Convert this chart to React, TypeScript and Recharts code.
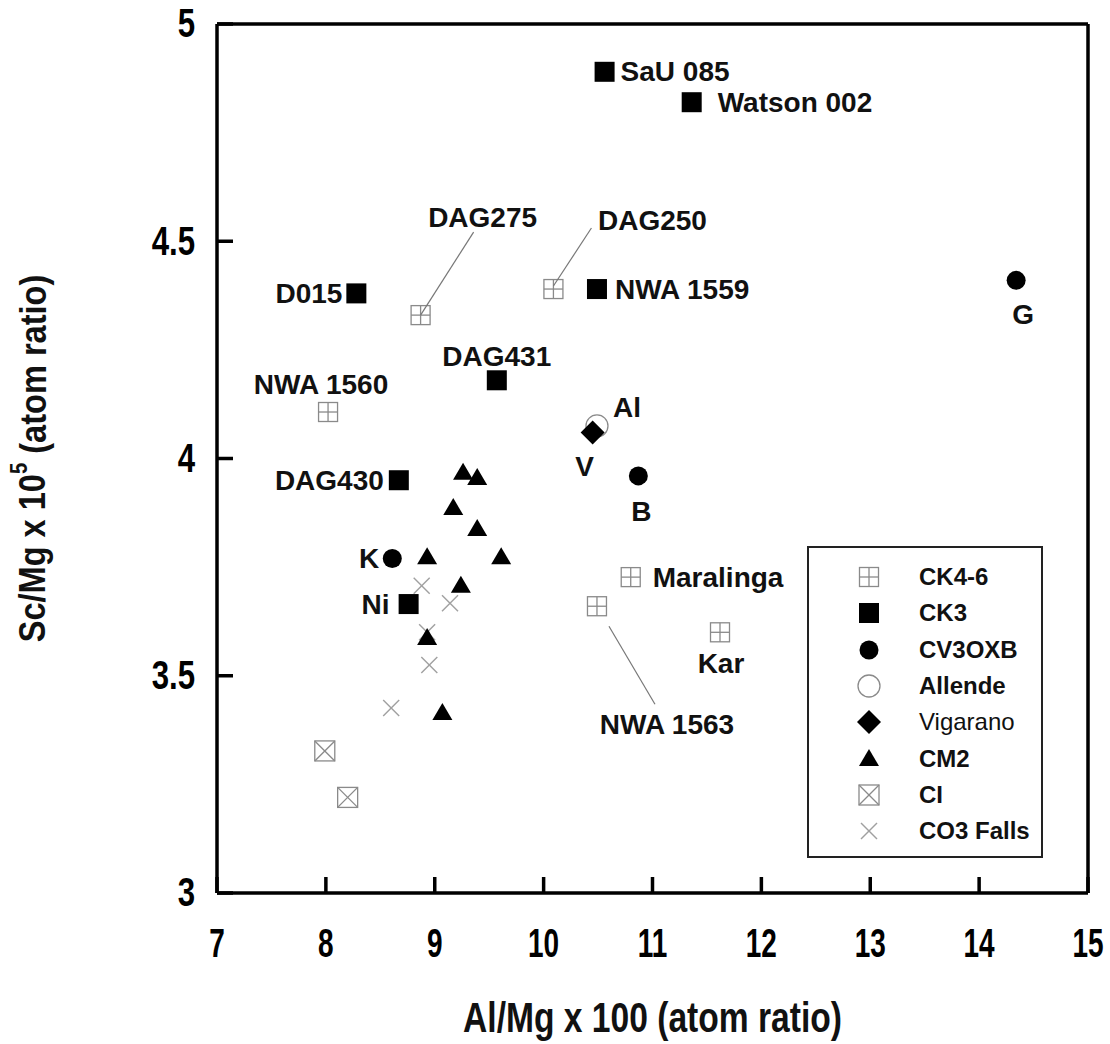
import React from "react";
import { ScatterChart, Scatter, XAxis, YAxis, Legend } from "recharts";

const xTicks = [7, 8, 9, 10, 11, 12, 13, 14, 15];
const yTicks = [3, 3.5, 4, 4.5, 5];

const ck46 = [
  { x: 8.87, y: 4.33, name: "DAG275" },
  { x: 10.09, y: 4.39, name: "DAG250" },
  { x: 8.02, y: 4.107, name: "NWA 1560" },
  { x: 10.8, y: 3.727, name: "Maralinga" },
  { x: 10.49, y: 3.66, name: "NWA 1563" },
  { x: 11.62, y: 3.6, name: "Kar" },
];

const ck3 = [
  { x: 10.56, y: 4.89, name: "SaU 085" },
  { x: 11.36, y: 4.82, name: "Watson 002" },
  { x: 8.28, y: 4.38, name: "D015" },
  { x: 10.49, y: 4.39, name: "NWA 1559" },
  { x: 9.57, y: 4.18, name: "DAG431" },
  { x: 8.67, y: 3.95, name: "DAG430" },
  { x: 8.76, y: 3.665, name: "Ni" },
];

const cv3oxb = [
  { x: 14.34, y: 4.41, name: "G" },
  { x: 10.87, y: 3.96, name: "B" },
  { x: 8.61, y: 3.77, name: "K" },
];

const allende = [{ x: 10.49, y: 4.075, name: "Al" }];
const vigarano = [{ x: 10.45, y: 4.06, name: "V" }];

const cm2 = [
  { x: 9.26, y: 3.967 },
  { x: 9.39, y: 3.955 },
  { x: 9.17, y: 3.886 },
  { x: 9.39, y: 3.838 },
  { x: 8.93, y: 3.773 },
  { x: 9.61, y: 3.773 },
  { x: 9.24, y: 3.707 },
  { x: 8.93, y: 3.587 },
  { x: 9.07, y: 3.414 },
];

const ci = [
  { x: 7.99, y: 3.327 },
  { x: 8.2, y: 3.22 },
];

const co3Falls = [
  { x: 8.88, y: 3.707 },
  { x: 9.14, y: 3.667 },
  { x: 8.93, y: 3.6 },
  { x: 8.95, y: 3.525 },
  { x: 8.6, y: 3.426 },
];

const legendOrder = ["CK4-6", "CK3", "CV3OXB", "Allende", "Vigarano", "CM2", "CI", "CO3 Falls"];

// where each point's name goes, in px from the marker
type Spot = { dx: number; dy: number; anchor: "start" | "middle" | "end"; line?: number[] };
const labelSpots: Record<string, Spot> = {
  "SaU 085": { dx: 16, dy: 0, anchor: "start" },
  "Watson 002": { dx: 26, dy: 0, anchor: "start" },
  D015: { dx: -14, dy: 0, anchor: "end" },
  "NWA 1559": { dx: 18, dy: 0, anchor: "start" },
  DAG431: { dx: 0, dy: -24, anchor: "middle" },
  DAG430: { dx: -15, dy: 0, anchor: "end" },
  "NWA 1560": { dx: -7, dy: -28, anchor: "middle" },
  DAG275: { dx: 62, dy: -98, anchor: "middle", line: [0, 0, 53, -83] },
  DAG250: { dx: 99, dy: -69, anchor: "middle", line: [0, -3, 38, -61] },
  "NWA 1563": { dx: 70, dy: 118, anchor: "middle", line: [12, 20, 58, 98] },
  Maralinga: { dx: 22, dy: 0, anchor: "start" },
  Kar: { dx: 1, dy: 31, anchor: "middle" },
  G: { dx: 7, dy: 34, anchor: "middle" },
  B: { dx: 3, dy: 36, anchor: "middle" },
  K: { dx: -13, dy: 0, anchor: "end" },
  Ni: { dx: -19, dy: 0, anchor: "end" },
  Al: { dx: 30, dy: -18, anchor: "middle" },
  V: { dx: -8, dy: 34, anchor: "middle" },
};

const FONT = "'Liberation Sans', Arial, sans-serif";
const TICK = 16;
const GRAY = "#8a8a8a";
const axisStyle = { stroke: "#000", strokeWidth: 3.5 };

function glyph(kind: string, cx: number, cy: number) {
  switch (kind) {
    case "CK4-6":
      return (
        <g stroke={GRAY} strokeWidth={1.3} fill="#fff">
          <rect x={cx - 9.5} y={cy - 9.5} width={19} height={19} />
          <line x1={cx} y1={cy - 9.5} x2={cx} y2={cy + 9.5} />
          <line x1={cx - 9.5} y1={cy} x2={cx + 9.5} y2={cy} />
        </g>
      );
    case "CK3":
      return <rect x={cx - 10} y={cy - 10} width={20} height={20} fill="#000" />;
    case "CV3OXB":
      return <circle cx={cx} cy={cy} r={9.5} fill="#000" />;
    case "Allende":
      return <circle cx={cx} cy={cy} r={11} fill="none" stroke={GRAY} strokeWidth={1.3} />;
    case "Vigarano":
      return <polygon points={`${cx},${cy - 12} ${cx + 12},${cy} ${cx},${cy + 12} ${cx - 12},${cy}`} fill="#000" />;
    case "CM2":
      return <polygon points={`${cx},${cy - 10} ${cx + 10},${cy + 7} ${cx - 10},${cy + 7}`} fill="#000" />;
    case "CI":
      return (
        <g stroke={GRAY} strokeWidth={1.3} fill="#fff">
          <rect x={cx - 10} y={cy - 10} width={20} height={20} />
          <line x1={cx - 10} y1={cy - 10} x2={cx + 10} y2={cy + 10} />
          <line x1={cx - 10} y1={cy + 10} x2={cx + 10} y2={cy - 10} />
        </g>
      );
    default:
      return (
        <g stroke="#a0a0a0" strokeWidth={1.4}>
          <line x1={cx - 8} y1={cy - 8} x2={cx + 8} y2={cy + 8} />
          <line x1={cx - 8} y1={cy + 8} x2={cx + 8} y2={cy - 8} />
        </g>
      );
  }
}

function pointLabel(name: string | undefined, cx: number, cy: number) {
  if (!name) return null;
  const s = labelSpots[name];
  if (!s) return null;
  return (
    <g>
      {s.line && (
        <line
          x1={cx + s.line[0]}
          y1={cy + s.line[1]}
          x2={cx + s.line[2]}
          y2={cy + s.line[3]}
          stroke="#777"
          strokeWidth={1.2}
        />
      )}
      <text
        x={cx + s.dx}
        y={cy + s.dy}
        textAnchor={s.anchor}
        dominantBaseline="central"
        fontFamily={FONT}
        fontWeight="bold"
        fontSize={28}
        fill="#111"
      >
        {name}
      </text>
    </g>
  );
}

const marker = (kind: string) => (props: any) => (
  <g>
    {glyph(kind, props.cx, props.cy)}
    {pointLabel(props.payload?.name, props.cx, props.cy)}
  </g>
);

const tickText = { fontFamily: FONT, fontWeight: "bold" as const, fontSize: 40, fill: "#000" };

const BottomTick = (p: any) => (
  <g>
    <line x1={p.x} y1={p.y} x2={p.x} y2={p.y - TICK} stroke="#000" strokeWidth={3.5} />
    <text
      transform={`translate(${p.x},${p.y + 50}) scale(0.7,1)`}
      textAnchor="middle"
      dominantBaseline="central"
      {...tickText}
    >
      {p.payload.value}
    </text>
  </g>
);

const LeftTick = (p: any) => (
  <g>
    <line x1={p.x} y1={p.y} x2={p.x + TICK} y2={p.y} stroke="#000" strokeWidth={3.5} />
    <text
      transform={`translate(${p.x - 22},${p.y}) scale(0.78,1)`}
      textAnchor="end"
      dominantBaseline="central"
      {...tickText}
    >
      {p.payload.value}
    </text>
  </g>
);

const TopTick = (p: any) => <line x1={p.x} y1={p.y} x2={p.x} y2={p.y + TICK} stroke="#000" strokeWidth={3.5} />;
const RightTick = (p: any) => <line x1={p.x} y1={p.y} x2={p.x - TICK} y2={p.y} stroke="#000" strokeWidth={3.5} />;

const titleText = { fontFamily: FONT, fontWeight: "bold" as const, fontSize: 42, fill: "#111" };

const XTitle = (props: any) => {
  const vb = props.viewBox;
  return (
    <text
      transform={`translate(${vb.x + vb.width / 2},${vb.y + 125}) scale(0.8,1)`}
      textAnchor="middle"
      dominantBaseline="central"
      {...titleText}
    >
      Al/Mg x 100 (atom ratio)
    </text>
  );
};

const YTitle = (props: any) => {
  const vb = props.viewBox;
  return (
    <text
      transform={`translate(${vb.x + 32},${vb.y + vb.height / 2}) rotate(-90) scale(0.88,1)`}
      textAnchor="middle"
      dominantBaseline="central"
      {...titleText}
      fontSize={37}
    >
      Sc/Mg x 10
      <tspan dy={-14} fontSize={23}>
        5
      </tspan>
      <tspan dy={14}> (atom ratio)</tspan>
    </text>
  );
};

const LegendBox = (props: any) => {
  const names: string[] = (props.payload || []).map((e: any) => e.value);
  const rows = legendOrder.filter((n) => names.includes(n));
  return (
    <div
      style={{
        border: "2px solid #222",
        width: 236,
        height: 312,
        boxSizing: "border-box",
        paddingTop: 11,
        background: "#fff",
      }}
    >
      {rows.map((n) => (
        <div key={n} style={{ height: 36.3, display: "flex", alignItems: "center" }}>
          <svg width={110} height={30} style={{ flex: "none" }}>
            {glyph(n, 60, 15)}
          </svg>
          <span
            style={{
              fontFamily: FONT,
              fontSize: 24,
              fontWeight: n === "Vigarano" ? "normal" : "bold",
              color: "#111",
            }}
          >
            {n}
          </span>
        </div>
      ))}
    </div>
  );
};

export default function App() {
  return (
    <div style={{ width: 1110, height: 1044, background: "#fff" }}>
      <style>{"body{margin:0;background:#fff}"}</style>
      <ScatterChart width={1110} height={1044} margin={{ top: 23, right: 21, bottom: 0, left: 0 }}>
        <XAxis
          dataKey="x"
          type="number"
          domain={[7, 15]}
          ticks={xTicks}
          interval={0}
          height={151}
          tickSize={0}
          tickMargin={0}
          tickLine={false}
          tick={BottomTick}
          axisLine={axisStyle}
          label={XTitle}
        />
        <XAxis
          xAxisId="top"
          orientation="top"
          type="number"
          domain={[7, 15]}
          ticks={xTicks}
          interval={0}
          height={1}
          tickSize={0}
          tickMargin={0}
          tickLine={false}
          tick={TopTick}
          axisLine={axisStyle}
        />
        <YAxis
          dataKey="y"
          type="number"
          domain={[3, 5]}
          ticks={yTicks}
          interval={0}
          width={217}
          tickSize={0}
          tickMargin={0}
          tickLine={false}
          tick={LeftTick}
          axisLine={axisStyle}
          label={YTitle}
        />
        <YAxis
          yAxisId="right"
          orientation="right"
          type="number"
          domain={[3, 5]}
          ticks={yTicks}
          interval={0}
          width={1}
          tickSize={0}
          tickMargin={0}
          tickLine={false}
          tick={RightTick}
          axisLine={axisStyle}
        />
        <Legend
          layout="horizontal"
          verticalAlign="middle"
          align="center"
          content={LegendBox}
          wrapperStyle={{ left: 807, top: 546, width: 236, height: 312 }}
        />
        <Scatter name="CK4-6" data={ck46} shape={marker("CK4-6")} isAnimationActive={false} />
        <Scatter name="CO3 Falls" data={co3Falls} shape={marker("CO3 Falls")} isAnimationActive={false} />
        <Scatter name="CI" data={ci} shape={marker("CI")} isAnimationActive={false} />
        <Scatter name="Allende" data={allende} shape={marker("Allende")} isAnimationActive={false} />
        <Scatter name="CK3" data={ck3} shape={marker("CK3")} isAnimationActive={false} />
        <Scatter name="CV3OXB" data={cv3oxb} shape={marker("CV3OXB")} isAnimationActive={false} />
        <Scatter name="Vigarano" data={vigarano} shape={marker("Vigarano")} isAnimationActive={false} />
        <Scatter name="CM2" data={cm2} shape={marker("CM2")} isAnimationActive={false} />
      </ScatterChart>
    </div>
  );
}
